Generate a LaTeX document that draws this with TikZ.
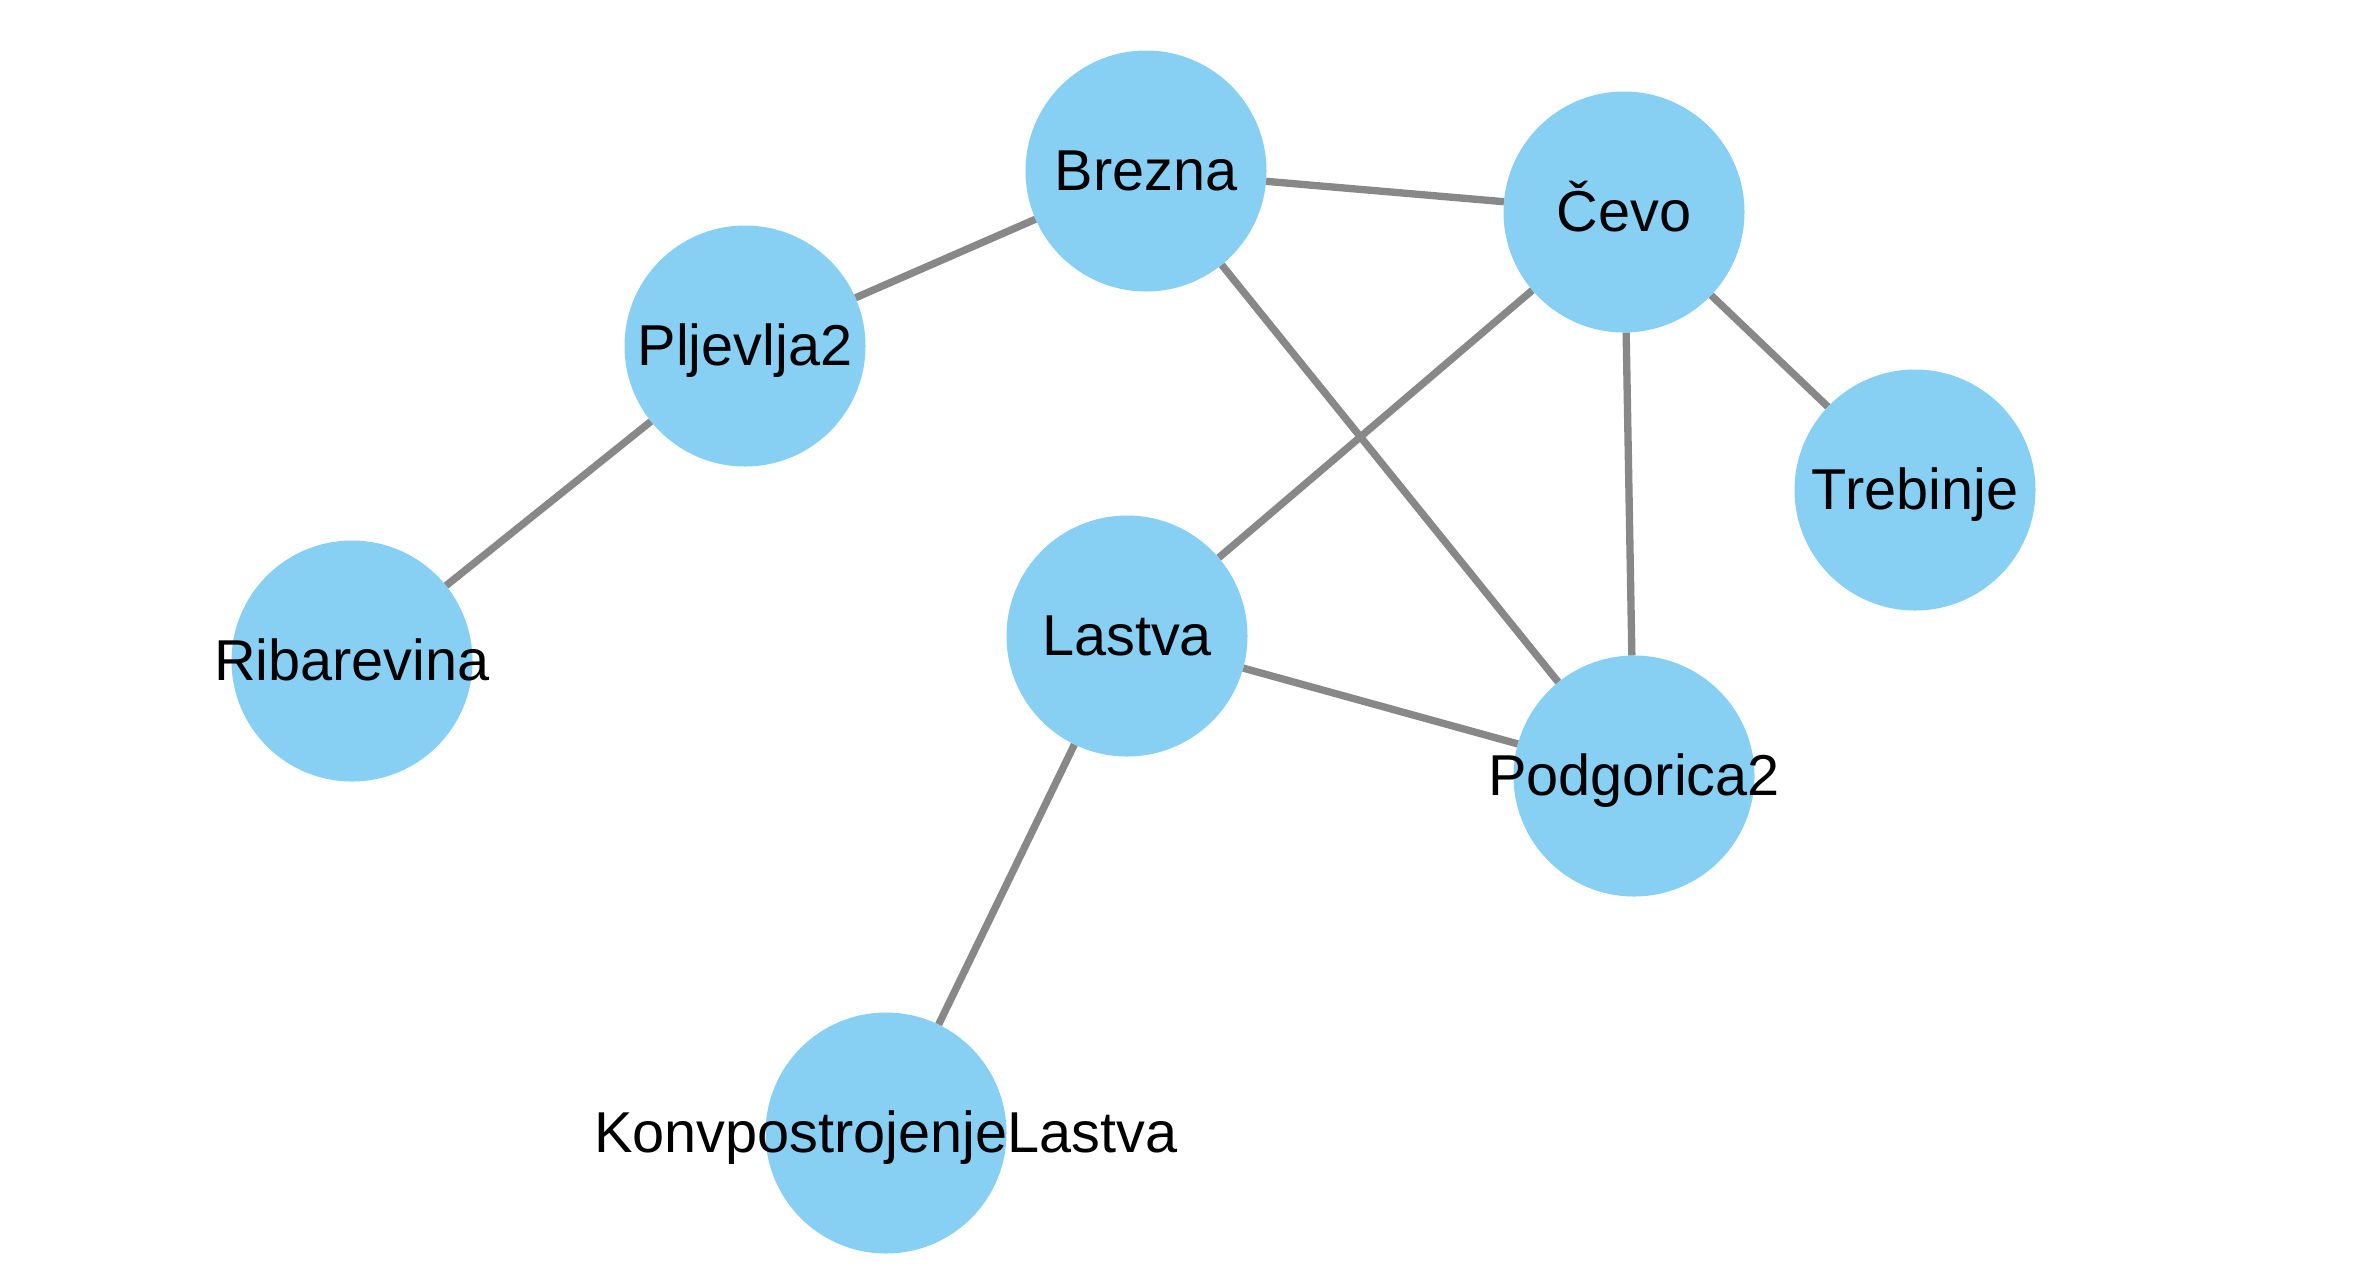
\documentclass[tikz,border=0pt]{standalone}
\usepackage{fontspec}
\setmainfont{Liberation Sans}
\usetikzlibrary{backgrounds}
\definecolor{nodefill}{RGB}{136,207,244}
\definecolor{edgegray}{RGB}{136,136,136}
\begin{document}
\begin{tikzpicture}[x=0.3pt,y=-0.3pt,
  vertex/.style={circle,fill=nodefill,minimum size=72.3pt,inner sep=0pt,outer sep=0pt},
  vlabel/.style={anchor=base,inner sep=0pt,font=\fontsize{17.3}{20}\selectfont},
  edge/.style={draw=edgegray,line width=2.2pt}]
\useasboundingbox (0,0) rectangle (2353,1281);
\node[vertex] (brezna) at (1146,171) {};
\node[vertex] (cevo) at (1624,212) {};
\node[vertex] (pljevlja) at (745,346) {};
\node[vertex] (trebinje) at (1915,490) {};
\node[vertex] (lastva) at (1127,636) {};
\node[vertex] (ribarevina) at (352,661) {};
\node[vertex] (podgorica) at (1634,776) {};
\node[vertex] (konv) at (886,1133) {};
\begin{scope}[on background layer]
\draw[edge] (brezna) -- (cevo);
\draw[edge] (brezna) -- (pljevlja);
\draw[edge] (brezna) -- (podgorica);
\draw[edge] (cevo) -- (lastva);
\draw[edge] (cevo) -- (trebinje);
\draw[edge] (cevo) -- (podgorica);
\draw[edge] (pljevlja) -- (ribarevina);
\draw[edge] (lastva) -- (podgorica);
\draw[edge] (lastva) -- (konv);
\end{scope}
\node[vlabel] (lbrezna) at ([yshift=-5.7pt]brezna.center) {Brezna};
\node[vlabel] (lcevo) at ([yshift=-5.7pt]cevo.center) {Čevo};
\node[vlabel] (lpljevlja) at ([yshift=-5.7pt]pljevlja.center) {Pljevlja2};
\node[vlabel] (ltrebinje) at ([yshift=-5.7pt]trebinje.center) {Trebinje};
\node[vlabel] (llastva) at ([yshift=-5.7pt]lastva.center) {Lastva};
\node[vlabel] (lribarevina) at ([yshift=-5.7pt]ribarevina.center) {Ribarevina};
\node[vlabel] (lpodgorica) at ([yshift=-5.7pt]podgorica.center) {Podgorica2};
\node[vlabel] (lkonv) at ([yshift=-5.7pt]konv.center) {KonvpostrojenjeLastva};
\end{tikzpicture}
\end{document}
